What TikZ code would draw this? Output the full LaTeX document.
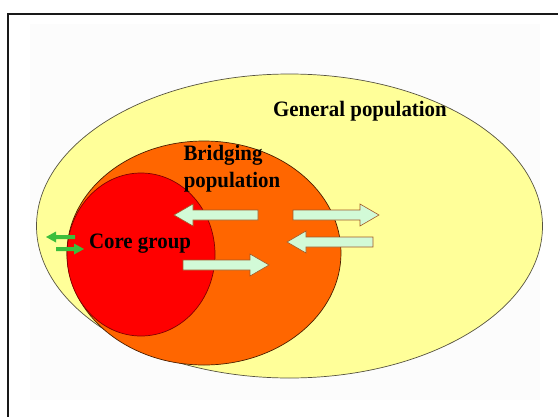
\documentclass[tikz,border=0pt]{standalone}
\usepackage{fontspec}
\setmainfont{Liberation Serif}
\definecolor{genpop}{RGB}{255,255,153}
\definecolor{bridge}{RGB}{255,102,0}
\definecolor{core}{RGB}{255,0,0}
\definecolor{arrfill}{RGB}{210,250,215}
\definecolor{arrline}{RGB}{160,90,40}
\definecolor{greenarr}{RGB}{60,190,60}
\tikzset{
  lbl/.style={font=\fontsize{22}{24}\selectfont\bfseries, text=black, inner sep=0pt, anchor=base, xscale=0.95},
  arr/.style={fill=arrfill, draw=arrline, line width=0.6pt},
  garr/.style={fill=greenarr, draw=none}
}
\newcommand\blockarrow[4]{% tail x, tip x, y, signed head length
  \filldraw[arr] (#1,{#3-5}) -- ({#2-#4},{#3-5}) -- ({#2-#4},{#3-11}) -- (#2,#3)
    -- ({#2-#4},{#3+11}) -- ({#2-#4},{#3+5}) -- (#1,{#3+5}) -- cycle;}
\newcommand\smallarrow[4]{%
  \fill[garr] (#1,{#3-2}) -- ({#2-#4},{#3-2}) -- ({#2-#4},{#3-5.5}) -- (#2,#3)
    -- ({#2-#4},{#3+5.5}) -- ({#2-#4},{#3+2}) -- (#1,{#3+2}) -- cycle;}
\begin{document}
\begin{tikzpicture}[x=1pt,y=-1pt]
\useasboundingbox (0,0) rectangle (558,416);
\fill[white] (0,0) rectangle (558,416);
\fill[black!1] (30,24) rectangle (540,400);
\draw[line width=2pt, black!90] (8,430) -- (8,14) -- (570,14);
% ellipses
\draw[fill=genpop, draw=black!60!yellow!60!black, line width=0.7pt] (289.5,226) ellipse [x radius=253, y radius=152];
\draw[fill=bridge, draw=black!70!bridge, line width=0.7pt] (204,253) ellipse [x radius=137, y radius=112];
\draw[fill=core, draw=black!50!red, line width=0.7pt] (141,254.5) ellipse [x radius=74, y radius=81.5];
% labels
\node[lbl] (gen) at (360,116) {General population};
\node[lbl] (bri) at (223,160) {Bridging};
\node[lbl] (pop) at (232,187) {population};
\node[lbl] (cor) at (140,248) {Core group};
% block arrows
\blockarrow{258}{174}{215}{-19}
\blockarrow{293}{379}{215}{19}
\blockarrow{373}{287}{242}{-19}
\blockarrow{183}{269}{265}{19}
% small green arrows
\smallarrow{75}{46}{237}{-10}
\smallarrow{56}{84}{249}{10}
\end{tikzpicture}
\end{document}
